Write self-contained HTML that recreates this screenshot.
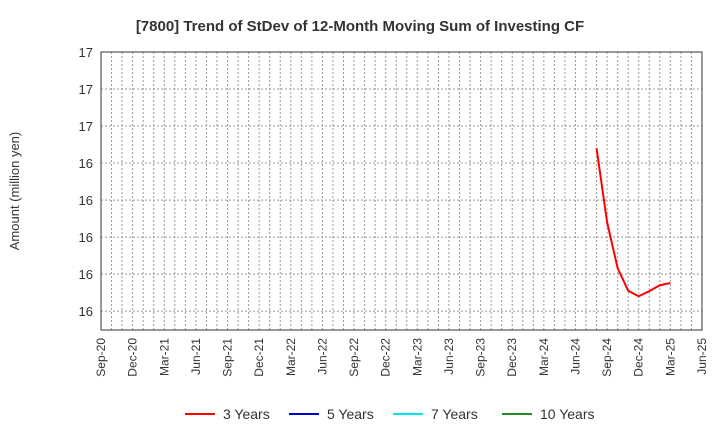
<!DOCTYPE html>
<html><head><meta charset="utf-8"><style>body{margin:0;background:#fff}svg{font-family:"Liberation Sans",sans-serif}</style></head>
<body>
<svg id="c" width="720" height="440"></svg>
<script>
const xLabels=["Sep-20","Dec-20","Mar-21","Jun-21","Sep-21","Dec-21","Mar-22","Jun-22","Sep-22","Dec-22","Mar-23","Jun-23","Sep-23","Dec-23","Mar-24","Jun-24","Sep-24","Dec-24","Mar-25","Jun-25"];
const yTicks=[16.2,16.3,16.4,16.5,16.6,16.7,16.8,16.9];
const yTickLabels=["16","16","16","16","16","17","17","17"];
const seriesMonths=[47,48,49,50,51,52,53,54]; // months since Sep-20
const series3y=[16.64,16.44,16.316,16.255,16.24,16.254,16.27,16.276];
const legendNames=["3 Years","5 Years","7 Years","10 Years"];
const legendColors=["#ff0000","#0000cc","#00e5ee","#228b22"];
const L=101,R=702,T=52,B=330,yMin=16.149,yMax=16.9,mMax=57;
const sx=m=>L+(R-L)*m/mMax, sy=v=>B-(B-T)*(v-yMin)/(yMax-yMin);
const svg=document.getElementById('c');const NS="http://www.w3.org/2000/svg";
function mk(t,a,txt,name){const e=document.createElementNS(NS,t);for(const k in a)e.setAttribute(k,a[k]);if(txt!==undefined)e.textContent=txt;


svg.appendChild(e);return e;}
mk('text',{x:360,y:31,'text-anchor':'middle','font-size':15,'font-weight':'bold',fill:'#333'},"[7800]  Trend of StDev of 12-Month Moving Sum of Investing CF","chart-title");
for(let m=1;m<mMax;m++)mk('line',{x1:sx(m),x2:sx(m),y1:T,y2:B,stroke:'#999','stroke-dasharray':'2,2','stroke-width':1},undefined,'x-grid-line');
yTicks.forEach((v,i)=>{mk('line',{x1:L,x2:R,y1:sy(v),y2:sy(v),stroke:'#999','stroke-dasharray':'2,2'},undefined,'y-grid-line');
mk('text',{x:L-8,y:sy(v)+5,'text-anchor':'end','font-size':13,fill:'#333'},yTickLabels[i],'y-tick-label');});
mk('rect',{x:L,y:T,width:R-L,height:B-T,fill:'none',stroke:'#333','stroke-width':1},undefined,'plot-area');
xLabels.forEach((s,i)=>{const x=sx(i*3);mk('text',{x:x+4,y:B+8,'text-anchor':'end','font-size':12,fill:'#333',transform:`rotate(-90 ${x+4} ${B+8})`},s,'x-tick-label');});
mk('text',{x:19,y:191,'text-anchor':'middle','font-size':13,fill:'#333',transform:'rotate(-90 19 191)'},"Amount (million yen)","y-axis-title");
mk('polyline',{points:seriesMonths.map((m,i)=>sx(m)+','+sy(series3y[i])).join(' '),fill:'none',stroke:'#ff0000','stroke-width':2},undefined,'line-3-years');
const lx=[185,289,393,502];
legendNames.forEach((n,i)=>{mk('line',{x1:lx[i],x2:lx[i]+30,y1:414,y2:414,stroke:legendColors[i],'stroke-width':2},undefined,'legend-swatch');
mk('text',{x:lx[i]+38,y:419,'font-size':14,fill:'#333'},n,'legend-entry');});
</script>
</body></html>
